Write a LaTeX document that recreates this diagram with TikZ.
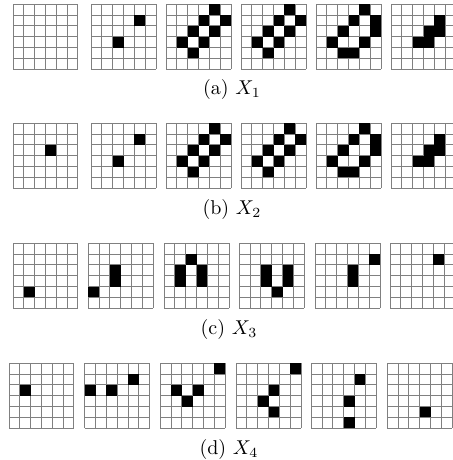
\documentclass[tikz,border=0pt]{standalone}
\begin{document}
\newcommand{\cellsz}{10.833}
\tikzset{
  gridline/.style={draw=black!50, line width=0.5pt},
  cellfill/.style={fill=black},
  captionlbl/.style={anchor=base, inner sep=0pt}
}
\newcommand{\glines}[2]{%
  \foreach \i in {0,...,6}{%
    \draw[gridline] ({#1+\i*\cellsz},#2) -- ({#1+\i*\cellsz},{#2+65});
    \draw[gridline] (#1,{#2+\i*\cellsz}) -- ({#1+65},{#2+\i*\cellsz});
  }}
\newcommand{\gcells}[3]{%
  \foreach \r/\c in {#3}{%
    \fill[cellfill] ({#1+\c*\cellsz},{#2+\r*\cellsz}) rectangle ++(\cellsz,\cellsz);
  }}
\begin{tikzpicture}[x=0.5pt,y=-0.5pt]
\useasboundingbox (0,0) rectangle (453,460);
% ---------- row (a)
\glines{13}{4.3}
\glines{91}{4.3}   \gcells{91}{4.3}{1/4,3/2}
\glines{166}{4.3}  \gcells{166}{4.3}{0/4,1/3,1/5,2/2,2/4,3/1,3/3,4/2}
\glines{241}{4.3}  \gcells{241}{4.3}{0/4,1/3,1/5,2/2,2/4,3/1,3/3,4/2}
\glines{316}{4.3}  \gcells{316}{4.3}{0/4,1/3,1/5,2/2,2/5,3/1,3/4,4/2,4/3}
\glines{391}{4.3}  \gcells{391}{4.3}{1/4,2/3,2/4,3/2,3/3}
\node[captionlbl] (capa) at (232,95) {(a) $X_1$};
% ---------- row (b)
\glines{13}{123.3}   \gcells{13}{123.3}{2/3}
\glines{91}{123.3}   \gcells{91}{123.3}{1/4,3/2}
\glines{166}{123.3}  \gcells{166}{123.3}{0/4,1/3,1/5,2/2,2/4,3/1,3/3,4/2}
\glines{241}{123.3}  \gcells{241}{123.3}{0/4,1/3,1/5,2/2,2/4,3/1,3/3,4/2}
\glines{316}{123.3}  \gcells{316}{123.3}{0/4,1/3,1/5,2/2,2/5,3/1,3/4,4/2,4/3}
\glines{391}{123.3}  \gcells{391}{123.3}{1/4,2/3,2/4,3/2,3/3}
\node[captionlbl] (capb) at (232,214.5) {(b) $X_2$};
% ---------- row (c)
\glines{13}{243.3}    \gcells{13}{243.3}{4/1}
\glines{88.3}{243.3}  \gcells{88.3}{243.3}{4/0,2/2,3/2}
\glines{164}{243.3}   \gcells{164}{243.3}{1/2,2/1,3/1,2/3,3/3}
\glines{239.3}{243.3} \gcells{239.3}{243.3}{2/2,3/2,2/4,3/4,4/3}
\glines{315}{243.3}   \gcells{315}{243.3}{1/5,2/3,3/3}
\glines{390}{243.3}   \gcells{390}{243.3}{1/4}
\node[captionlbl] (capc) at (229,334.5) {(c) $X_3$};
% ---------- row (d)
\glines{9}{363.3}      \gcells{9}{363.3}{2/1}
\glines{84.7}{363.3}   \gcells{84.7}{363.3}{2/0,2/2,1/4}
\glines{160.3}{363.3}  \gcells{160.3}{363.3}{0/5,2/1,2/3,3/2}
\glines{236}{363.3}    \gcells{236}{363.3}{0/5,2/3,3/2,4/3}
\glines{311.3}{363.3}  \gcells{311.3}{363.3}{1/4,3/3,5/3}
\glines{387.3}{363.3}  \gcells{387.3}{363.3}{4/3}
\node[captionlbl] (capd) at (229,454) {(d) $X_4$};
\end{tikzpicture}
\end{document}
